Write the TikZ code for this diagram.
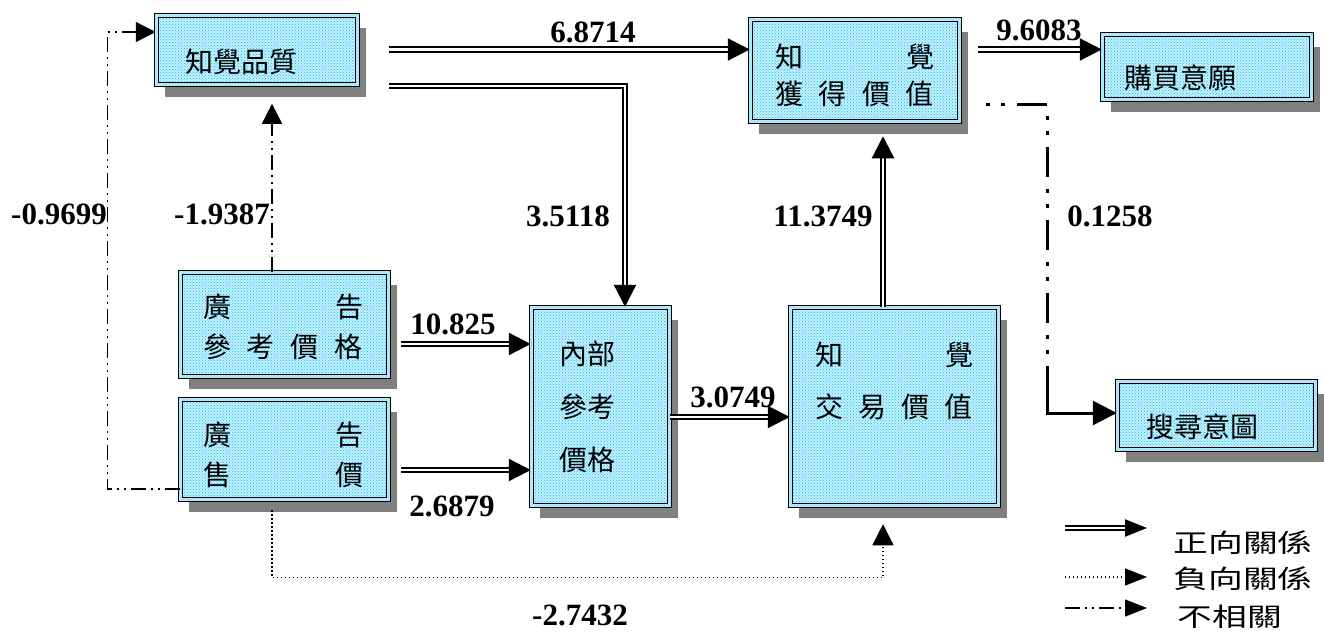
\documentclass[tikz,border=0pt]{standalone}
\usepackage{fontspec}
\setmainfont{Liberation Serif}
\newfontfamily\cjk{Noto Sans CJK TC}
\usepackage{graphicx}
\usetikzlibrary{arrows.meta, calc, shadows, patterns}

\definecolor{dotcyan}{RGB}{0,195,245}
\definecolor{palecyan}{RGB}{175,230,250}
\definecolor{basecyan}{RGB}{200,238,252}
\definecolor{shadowgray}{RGB}{128,128,128}

\begin{document}
\begin{tikzpicture}[
  x=1pt, y=-1pt,
  box/.style={draw, line width=1.5pt, double=palecyan, double distance=2.2pt,
              drop shadow={shadow xshift=8pt, shadow yshift=-12pt, fill=shadowgray, opacity=1},
              preaction={fill=basecyan}, pattern=crosshatch dots, pattern color=dotcyan, inner sep=0pt},
  boxtext/.style={font=\cjk\fontsize{28}{#1}\selectfont, inner sep=0pt, align=center},
  boxtext/.default=34,
  num/.style={font=\bfseries\fontsize{31}{31}\selectfont, inner sep=0pt},
  legtext/.style={font=\cjk\fontsize{29}{29}\selectfont, inner sep=0pt},
  posarrow/.style={double, double distance=2.3pt, line width=2.3pt, -{Triangle[length=22pt,width=22pt]}},
  negarrow/.style={line width=1.3pt, dash pattern=on 1.3pt off 2.7pt, -{Triangle[length=21pt,width=21pt]}},
  unrelarrow/.style={line width=1.3pt, dash pattern=on 15pt off 5pt on 2pt off 5pt on 2pt off 5pt,
                -{Triangle[length=20pt,width=20pt]}}
]
  \useasboundingbox (0,0) rectangle (1324,638);

  %% Boxes
  \node[box, minimum width=201pt, minimum height=69pt]  (qual)    at (257,50) {};
  \node[box, minimum width=209pt, minimum height=102pt] (gain)    at (855,70.5) {};
  \node[box, minimum width=209pt, minimum height=65pt]  (buy)     at (1207,67) {};
  \node[box, minimum width=198pt, minimum height=68pt]  (search)  at (1216.5,415.5) {};
  \node[box, minimum width=208pt, minimum height=104pt] (adref)   at (284.5,324.5) {};
  \node[box, minimum width=208pt, minimum height=100pt] (adprice) at (284.5,449.5) {};
  \node[box, minimum width=138pt, minimum height=198pt] (intref)  at (600.5,406.5) {};
  \node[box, minimum width=208pt, minimum height=198pt] (trans)   at (894.5,406.5) {};

  %% Box texts
  \node[boxtext] (qualtext) at (241,62) {知覺品質};
  \node[boxtext=37] (gaintext) at (854.5,75.5)
    {\makebox[159pt]{知\hfill 覺}\\\makebox[159pt]{獲\hfill 得\hfill 價\hfill 值}};
  \node[boxtext] (buytext) at (1180,78) {購買意願};
  \node[boxtext] (searchtext) at (1202,427) {搜尋意圖};
  \node[boxtext=40] (adreftext) at (283,327)
    {\makebox[160pt]{廣\hfill 告}\\\makebox[160pt]{參\hfill 考\hfill 價\hfill 格}};
  \node[boxtext=40] (adpricetext) at (283,455)
    {\makebox[160pt]{廣\hfill 告}\\\makebox[160pt]{售\hfill 價}};
  \node[boxtext=53] (intreftext) at (587.5,407) {內部\\參考\\價格};
  \node[boxtext=52] (transtext) at (894,381)
    {\makebox[158pt]{知\hfill 覺}\\\makebox[158pt]{交\hfill 易\hfill 價\hfill 值}};

  %% Positive paths
  \coordinate (qa) at ([xshift=30.5pt,yshift=0.5pt]qual.east);
  \coordinate (qb) at ([xshift=30.5pt,yshift=-36pt]qual.east);
  \coordinate (ra) at ([xshift=11.5pt,yshift=-19.5pt]adref.east);
  \coordinate (pa) at ([xshift=11.5pt,yshift=-20.5pt]adprice.east);
  \coordinate (ia) at ([yshift=-10.5pt]intref.east);
  \coordinate (ta) at ([xshift=-11.5pt]trans.north);
  \coordinate (ga) at ([xshift=17.5pt,yshift=21pt]gain.east);
  \draw[posarrow] (qa) -- (qa -| gain.west);
  \draw[posarrow] (qb) -| ([xshift=24.5pt]intref.north);
  \draw[posarrow] (ra) -- (ra -| intref.west);
  \draw[posarrow] (pa) -- (pa -| intref.west);
  \draw[posarrow] (ia) -- (ia -| trans.west);
  \draw[posarrow, shorten >=14pt] (ta) -- (ta |- gain.south);
  \draw[posarrow] (ga) -- (ga -| buy.west);

  %% Negative path
  \coordinate (na) at ([xshift=-12.5pt,yshift=-10pt]adprice.south);
  \coordinate (nb) at ([xshift=-11.5pt,yshift=-18pt]trans.south);
  \draw[negarrow] (na) -- ++(0,67.5) -| (nb);

  %% Unrelated paths
  \coordinate (ua) at ([xshift=-12.5pt]adref.north);
  \coordinate (ub) at ([xshift=15pt,yshift=-18.5pt]qual.south);
  \coordinate (uc) at ([yshift=-39.5pt]adprice.west);
  \coordinate (ud) at ([yshift=18pt]qual.west);
  \coordinate (ue) at ([xshift=25.5pt,yshift=-33.5pt]gain.east);
  \coordinate (uf) at ([yshift=2.5pt]search.west);
  \coordinate (ug) at (1047,387);
  \draw[unrelarrow] (ua) -- (ub);
  \draw[unrelarrow] (uc) -- ++(-72.5,0) |- (ud);
  \draw[line width=3pt, dash pattern=on 4pt off 11pt on 4pt off 12pt on 30pt off 12pt]
    (ue) -- (ue -| ug) -- (ug);
  \draw[line width=3pt, -{Triangle[length=24pt,width=24pt]}] (ug) |- (uf);

  %% Labels
  \node[num] (l1) at (593,32) {6.8714};
  \node[num] (l2) at (1039,30) {9.6083};
  \node[num] (l3) at (568,216) {3.5118};
  \node[num] (l4) at (823,216) {11.3749};
  \node[num] (l5) at (1110,216) {0.1258};
  \node[num] (l6) at (59,214) {-0.9699};
  \node[num] (l7) at (222,214) {-1.9387};
  \node[num] (l8) at (453,324) {10.825};
  \node[num] (l9) at (452,506) {2.6879};
  \node[num] (l10) at (733,397) {3.0749};
  \node[num] (l11) at (580,615) {-2.7432};

  %% Legend
  \coordinate (lp1) at (1065,528); \coordinate (lp2) at (1147,528);
  \coordinate (ln1) at (1065,577); \coordinate (ln2) at (1147,577);
  \coordinate (lu1) at (1065,608); \coordinate (lu2) at (1147,608);
  \draw[posarrow, -{Triangle[length=22pt,width=17pt]}] (lp1) -- (lp2);
  \draw[negarrow, -{Triangle[length=22pt,width=17pt]}] (ln1) -- (ln2);
  \draw[unrelarrow, -{Triangle[length=22pt,width=17pt]}] (lu1) -- (lu2);
  \node[legtext] (legpos) at (1243,543) {\scalebox{1.2}[0.88]{正向關係}};
  \node[legtext] (legneg) at (1243,579) {\scalebox{1.2}[0.88]{負向關係}};
  \node[legtext] (legunrel) at (1230,617) {\scalebox{1.2}[0.88]{不相關}};
\end{tikzpicture}
\end{document}
